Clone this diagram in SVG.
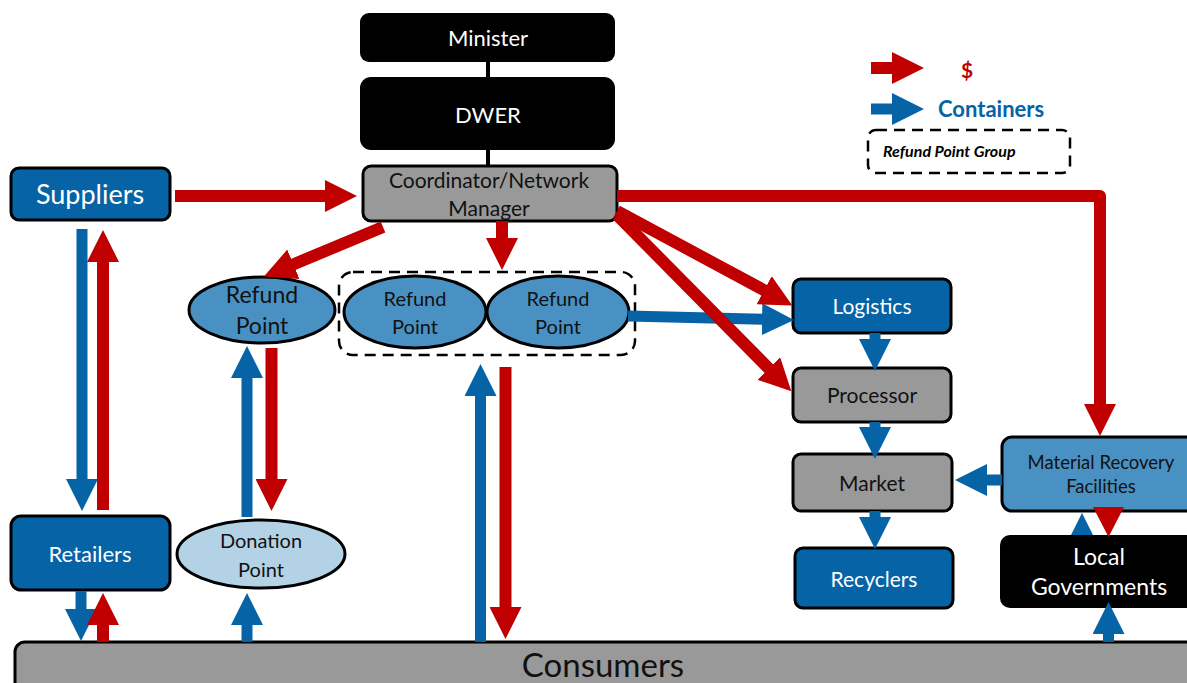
<svg xmlns="http://www.w3.org/2000/svg" width="1187" height="683" viewBox="0 0 1187 683">
<style>
text{font-family:Lato,"Open Sans","DejaVu Sans",sans-serif;text-anchor:middle}
.blk{fill:#000}
.dk{fill:#0563A6;stroke:#000;stroke-width:3}
.gr{fill:#999;stroke:#000;stroke-width:3}
.md{fill:#4A91C3;stroke:#000;stroke-width:3}
.lt{fill:#B4D2E6;stroke:#000;stroke-width:3}
.w{fill:#fff}
.k{fill:#111}
.r{stroke:#C00000;fill:none;stroke-width:12}
.b{stroke:#0563A6;fill:none;stroke-width:11}
.dash{fill:none;stroke:#000;stroke-width:2.5;stroke-dasharray:11 7}
</style>
<defs>
<marker id="hr" viewBox="0 0 32 32" refX="1" refY="16" markerWidth="32" markerHeight="32" markerUnits="userSpaceOnUse" orient="auto"><path d="M0,0 L32,16 L0,32 Z" fill="#C00000"/></marker>
<marker id="hb" viewBox="0 0 32 32" refX="1" refY="16" markerWidth="32" markerHeight="32" markerUnits="userSpaceOnUse" orient="auto"><path d="M0,0 L32,16 L0,32 Z" fill="#0563A6"/></marker>
</defs>

<g id="minister"><rect x="360" y="13" width="255" height="49" rx="9" class="blk"/><text x="488" y="46" font-size="22" class="w">Minister</text></g>
<g id="dwer"><rect x="360" y="77" width="255" height="73" rx="11" class="blk"/><text x="488" y="123" font-size="22" class="w">DWER</text></g>
<g id="coordinator"><rect x="363" y="166" width="254" height="55" rx="8" class="gr"/><text x="489" y="188" font-size="21" class="k">Coordinator/Network</text><text x="489" y="216" font-size="21" class="k">Manager</text></g>
<g id="suppliers"><rect x="11" y="168" width="159" height="52" rx="8" class="dk"/><text x="90" y="204" font-size="27" class="w">Suppliers</text></g>
<g id="retailers"><rect x="11" y="516" width="159" height="74" rx="10" class="dk"/><text x="90" y="562" font-size="22" class="w">Retailers</text></g>
<g id="refund-left"><ellipse cx="262" cy="310" rx="73" ry="33" class="md"/><text x="262" y="303" font-size="23" class="k">Refund</text><text x="262" y="334" font-size="23" class="k">Point</text></g>
<g id="refund-group"><rect x="339" y="272" width="296" height="83" rx="14" class="dash"/></g>
<g id="refund-1"><ellipse cx="415" cy="312" rx="71" ry="36" class="md"/><text x="415" y="306" font-size="20" class="k">Refund</text><text x="415" y="334" font-size="20" class="k">Point</text></g>
<g id="refund-2"><ellipse cx="558" cy="312" rx="71" ry="36" class="md"/><text x="558" y="306" font-size="20" class="k">Refund</text><text x="558" y="334" font-size="20" class="k">Point</text></g>
<g id="donation"><ellipse cx="261" cy="554" rx="84" ry="34" class="lt"/><text x="261" y="548" font-size="20" class="k">Donation</text><text x="261" y="577" font-size="20" class="k">Point</text></g>
<g id="logistics"><rect x="793" y="279" width="158" height="54" rx="8" class="dk"/><text x="872" y="314" font-size="21" class="w">Logistics</text></g>
<g id="processor"><rect x="793" y="368" width="158" height="54" rx="8" class="gr"/><text x="872" y="403" font-size="21" class="k">Processor</text></g>
<g id="market"><rect x="793" y="454" width="159" height="57" rx="8" class="gr"/><text x="872" y="491" font-size="21" class="k">Market</text></g>
<g id="recyclers"><rect x="795" y="548" width="158" height="60" rx="8" class="dk"/><text x="874" y="587" font-size="21" class="w">Recyclers</text></g>
<g id="mrf"><rect x="1002" y="437" width="200" height="74" rx="10" class="md"/><text x="1101" y="469" font-size="18.5" class="k">Material Recovery</text><text x="1101" y="493" font-size="18.5" class="k">Facilities</text></g>
<g id="local-governments"><rect x="1000" y="535" width="200" height="73" rx="10" class="blk"/><text x="1099" y="565" font-size="23" class="w">Local</text><text x="1099" y="595" font-size="23" class="w">Governments</text></g>
<g id="consumers"><rect x="15" y="642" width="1190" height="60" rx="10" class="gr"/><text x="603" y="677" font-size="33" class="k">Consumers</text></g>

<g id="legend">
<path d="M871,68 H893" class="r" stroke-width="11" marker-end="url(#hr)"/>
<text x="967" y="78" font-size="21" font-weight="bold" fill="#C00000">$</text>
<path d="M871,109 H893" class="b" stroke-width="11" marker-end="url(#hb)"/>
<text x="938" y="117" font-size="22" font-weight="bold" fill="#0563A6" style="text-anchor:start">Containers</text>
<rect x="868" y="130" width="202" height="43" rx="8" class="dash"/>
<text x="883" y="157" font-size="16" font-weight="bold" font-style="italic" fill="#000" style="text-anchor:start">Refund Point Group</text>
</g>

<g id="connectors">
<path d="M488,62 V77 M488,150 V166" stroke="#000" stroke-width="4"/>
<path d="M175,196 H326" class="r" marker-end="url(#hr)"/>
<path d="M82,229 V480" class="b" marker-end="url(#hb)"/>
<path d="M103,510 V261" class="r" stroke-width="11" marker-end="url(#hr)"/>
<path d="M81,591 V610" class="b" marker-end="url(#hb)"/>
<path d="M103,642 V624" class="r" stroke-width="11" marker-end="url(#hr)"/>
<path d="M247,642 V624" class="b" marker-end="url(#hb)"/>
<path d="M247,517 V377" class="b" marker-end="url(#hb)"/>
<path d="M271.5,348 V480" class="r" stroke-width="11" marker-end="url(#hr)"/>
<path d="M383,227 L292.5,264.7" class="r" stroke-width="13" marker-end="url(#hr)"/>
<path d="M502,221 V239" class="r" marker-end="url(#hr)"/>
<path d="M480.5,642 V395" class="b" marker-end="url(#hb)"/>
<path d="M505.5,367 V608" class="r" stroke-width="11" marker-end="url(#hr)"/>
<path d="M628,316 L763,319.2" class="b" marker-end="url(#hb)"/>
<path d="M617,211 L765,290.7" class="r" stroke-width="13" marker-end="url(#hr)"/>
<path d="M617,215 L769.5,369.2" class="r" stroke-width="13" marker-end="url(#hr)"/>
<path d="M617,196 H1100 V405" class="r" stroke-width="11" stroke-linejoin="round" marker-end="url(#hr)"/>
<path d="M875,333 V340" class="b" stroke-width="13" marker-end="url(#hb)"/>
<path d="M875,422 V428" class="b" stroke-width="13" marker-end="url(#hb)"/>
<path d="M875,511 V518" class="b" stroke-width="11" marker-end="url(#hb)"/>
<path d="M1002,480 H986" class="b" marker-end="url(#hb)"/>
<polygon points="1071,535 1093,535 1082,513" fill="#0563A6"/>
<polygon points="1093,507 1124,507 1108.5,537" fill="#C00000"/>
<path d="M1108.5,642 V633" class="b" stroke-width="15" marker-end="url(#hb)"/>
</g>
</svg>
